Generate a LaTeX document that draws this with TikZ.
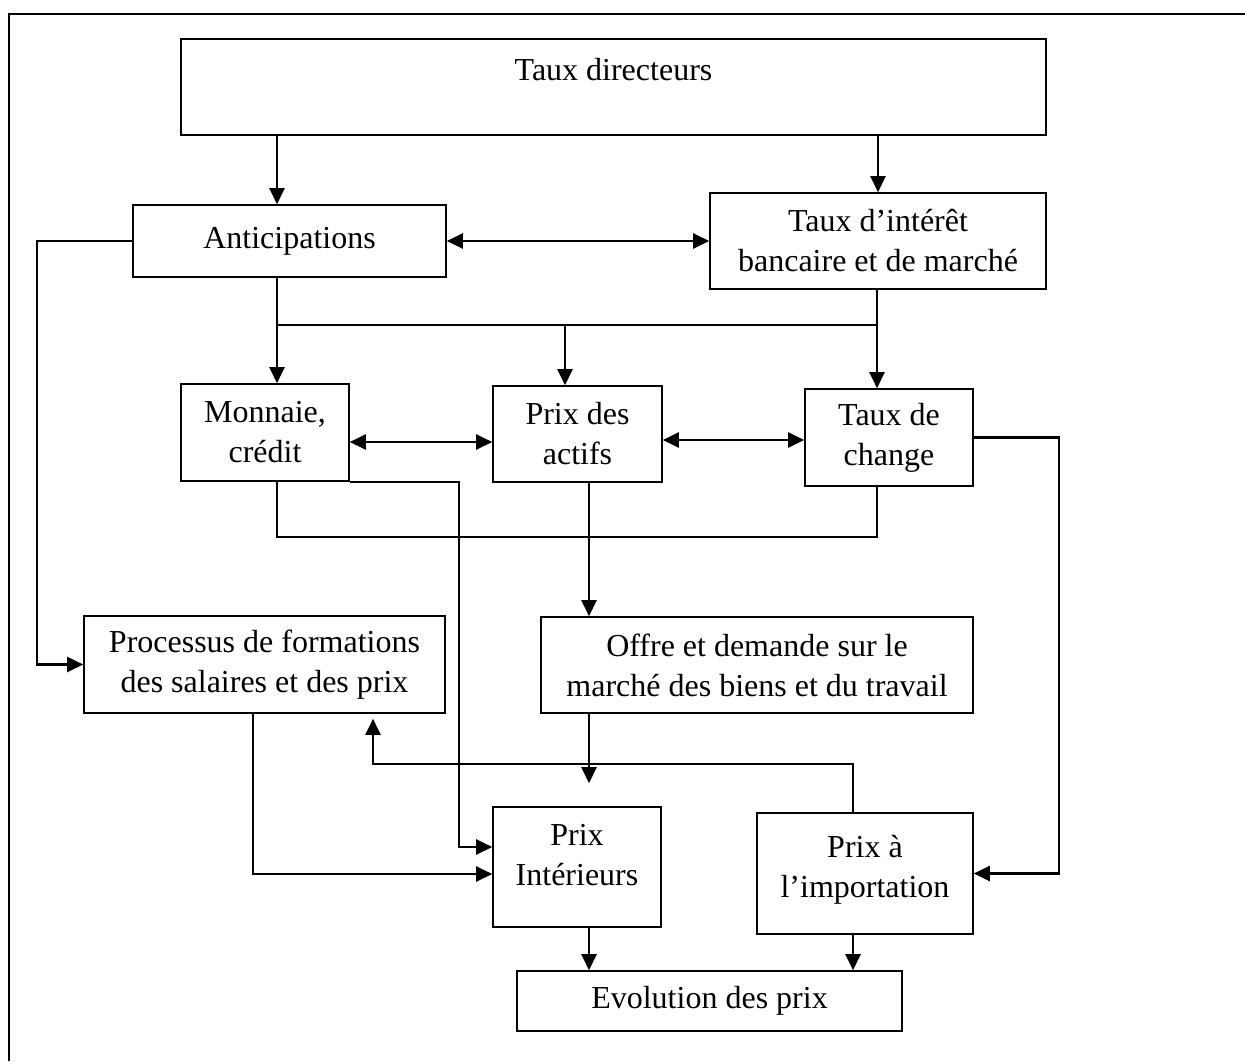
\documentclass[tikz,border=0pt]{standalone}
\usepackage{fontspec}
\setmainfont{Liberation Serif}
\usepackage{tikz}
\usetikzlibrary{arrows.meta}

% texte en haut de la boite
\newcommand{\hautbox}[4]{\parbox[c][#1][t]{#2}{\centering\rule{0pt}{#3}#4}}

\begin{document}
\begin{tikzpicture}[
        x=0.5pt, y=-0.5pt,
        font=\fontsize{16}{20}\selectfont,
        box/.style={rectangle, draw, line width=0.8pt, align=center, inner sep=0pt},
        arrow/.style={-{Triangle[length=8pt, width=7.5pt]}, line width=1.1pt},
        dblarrow/.style={{Triangle[length=8pt, width=7.5pt]}-{Triangle[length=8pt, width=7.5pt]}, line width=1.1pt},
        link/.style={line width=0.7pt}
    ]
    \useasboundingbox (0,0) rectangle (1245,1061);
    \draw[line width=1.3pt] (9,1061) -- (9,14) -- (1245,14);

    % noeuds
    \node[box] (dir) at (613.5,87) {\hautbox{48pt}{432.5pt}{20.5pt}{Taux directeurs}};
    \node[box, minimum width=156.5pt, minimum height=36pt] (ant) at (289.5,241) {Anticipations};
    \node[box, minimum width=168pt, minimum height=48pt] (int) at (878,241) {Taux d’intérêt\\bancaire et de marché};
    \node[box, minimum width=84pt, minimum height=48.5pt] (mon) at (265,432.5) {Monnaie,\\crédit};
    \node[box, minimum width=84.5pt, minimum height=48pt] (act) at (577.5,434) {Prix des\\actifs};
    \node[box, minimum width=84pt, minimum height=48.5pt] (chg) at (889,437.5) {Taux de\\change};
    \node[box, minimum width=180.5pt, minimum height=48.5pt] (proc) at (264.5,664.5) {Processus de formations\\des salaires et des prix};
    \node[box, minimum width=216pt, minimum height=48pt] (off) at (757,665) {Offre et demande sur le\\marché des biens et du travail};
    \node[box] (pint) at (577,867) {\hautbox{60pt}{84pt}{19pt}{Prix\\Intérieurs}};
    \node[box] (imp) at (865,873.5) {\hautbox{60.5pt}{108pt}{22pt}{Prix à\\l’importation}};
    \node[box, minimum width=192.5pt, minimum height=30pt] (evo) at (709.5,1001) {Evolution des prix};

    \coordinate (jL) at (277,325);
    \coordinate (jM) at (565,325);
    \coordinate (jR) at (877,325);
    \coordinate (bL) at (277,537);
    \coordinate (bR) at (877,537);
    \coordinate (mk) at (459,847);
    \coordinate (pk) at (253,874);
    \coordinate (fb) at (373,764);
    \coordinate (lk) at (37,241);
    \coordinate (rk) at (1059,440);

    % liaisons
    \draw[arrow] (dir.south -| jL) -- (ant.north -| jL);
    \draw[arrow] (dir.south -| int.north) -- (int.north);
    \draw[dblarrow] (ant.east) -- (ant.east -| int.west);
    \draw[link] (ant.south -| jL) -- (jL) -- (jR);
    \draw[arrow] (jL) -- (mon.north -| jL);
    \draw[arrow] (jM) -- (jM |- act.north);
    \draw[arrow] (int.south -| jR) -- (chg.north -| jR);
    \draw[dblarrow] ([yshift=-4.75pt]mon.east) -- ([yshift=-4.75pt]mon.east -| act.west);
    \draw[dblarrow] ([yshift=-3pt]act.east) -- ([yshift=-3pt]act.east -| chg.west);
    \draw[link] (mon.south -| bL) -- (bL) -- (bR) -- (bR |- chg.south);
    \draw[arrow] (mon.south east) -- (mon.south east -| mk) -- (mk) -- (mk -| pint.west);
    \draw[arrow] ([xshift=5.75pt]act.south) -- ([xshift=5.75pt]act.south |- off.north);
    \draw[arrow, shorten >=11.5pt] ([xshift=6pt]pint.north |- off.south) -- ([xshift=6pt]pint.north);
    \draw[arrow, shorten >=2.5pt] ([xshift=-6pt]imp.north) |- (fb) -- (fb |- proc.south);
    \draw[arrow] (proc.south -| pk) -- (pk) -- (pk -| pint.west);
    \draw[arrow] (ant.west) -- (ant.west -| lk) -- (lk |- proc.west) -- (proc.west);
    \draw[arrow] (chg.east) -- (chg.east -| rk) -- (rk |- imp.east) -- (imp.east);
    \draw[arrow] ([xshift=6pt]pint.south) -- ([xshift=6pt]pint.south |- evo.north);
    \draw[arrow] ([xshift=-6pt]imp.south) -- ([xshift=-6pt]imp.south |- evo.north);

\end{tikzpicture}
\end{document}
